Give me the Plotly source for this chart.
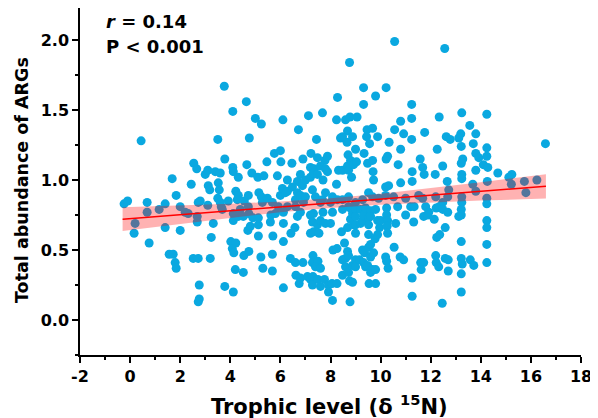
import plotly.graph_objects as go

# ---- data (trophic level δ15N, total ARG abundance) ----
pts_lt2 = [(-0.24,0.83),(-0.10,0.85),(0.16,0.62),(0.20,0.69),(0.44,1.28),(0.68,0.84),(0.68,0.77),
           (0.76,0.55),(1.16,0.79),(1.40,0.83),(1.40,0.66),(1.56,0.47),(1.72,0.47),(1.68,1.01),
           (1.80,0.41),(1.84,0.37),(1.84,0.89),(2.00,0.64),(2.00,0.81)]
pts_2_4 = [(2.20,0.77),(2.32,0.76),(2.44,0.97),(2.54,1.12),(2.66,1.08),(2.68,0.74),(2.68,0.70),
           (2.72,0.84),(2.80,0.85),(2.52,0.44),(2.72,0.44),(2.76,0.25),(2.76,0.15),(2.72,0.13),
           (3.00,1.04),(3.10,1.07),(3.12,0.96),(3.18,0.93),(3.10,0.82),(3.24,0.59),(3.32,0.69),
           (3.20,0.44),(3.40,1.06),(3.50,1.29),(3.52,0.98),(3.56,0.93),(3.50,0.87),(3.60,1.05),
           (3.60,0.84),(3.64,0.81),(3.68,0.79),(3.76,1.67),(3.78,1.15),(3.78,0.24),(3.92,0.85)]
pts_4_6 = [(4.10,1.49),(4.02,0.56),(4.10,1.09),(4.12,1.06),(4.22,0.92),(4.32,0.89),(4.28,0.86),
           (4.12,0.76),(4.12,0.71),(4.32,0.74),(4.40,0.79),(4.32,1.02),(4.22,0.55),(4.08,0.51),
           (4.14,0.48),(4.12,0.20),(4.20,0.36),(4.52,0.34),(4.54,0.46),(4.74,0.49),(4.56,0.85),
           (4.72,0.81),(4.52,0.74),(4.74,0.76),(4.90,0.73),(4.70,0.64),(4.80,0.67),(5.12,0.68),
           (5.12,0.73),(5.12,0.60),(4.64,1.56),(4.66,1.11),(4.76,1.30),(4.72,0.89),(4.86,1.05),
           (5.00,1.44),(5.24,1.40),(5.10,1.02),(5.14,0.91),(5.24,0.88),(5.28,0.84),(5.34,1.03),
           (5.46,1.13),(5.48,0.87),(5.22,0.45),(5.30,0.37),(5.62,0.75),(5.60,0.70),(5.80,0.76),
           (5.68,0.47),(5.68,0.35),(5.70,0.60),(5.68,0.84),(5.76,1.19),(5.88,1.03),(5.92,0.81),
           (6.00,1.21),(6.02,1.13),(6.00,0.89),(6.10,1.43)]
pts_6_8 = [(6.12,0.69),(6.12,0.56),(6.12,0.23),(6.12,0.77),(6.08,0.94),(6.20,0.91),(6.28,1.00),
           (6.28,0.92),(6.28,0.81),(6.42,0.62),(6.58,0.66),(6.40,0.44),(6.60,0.41),(6.90,0.41),
           (6.46,1.12),(6.48,0.95),(6.60,0.86),(6.60,0.81),(6.68,0.91),(6.72,1.36),(6.68,0.99),
           (6.80,1.04),(6.80,0.89),(6.80,0.77),(6.88,0.96),(6.90,1.15),(6.68,0.74),(6.62,0.32),
           (6.80,0.30),(6.75,0.26),(6.92,0.84),(7.00,0.88),(7.00,1.00),(7.08,0.31),(7.12,1.46),
           (7.22,1.19),(7.20,1.09),(7.34,1.08),(7.20,1.02),(7.32,1.05),(7.28,0.93),(7.32,0.76),
           (7.40,0.88),(7.48,1.04),(7.44,1.29),(7.48,1.16),(7.20,0.75),(7.20,0.62),(7.28,0.70),
           (7.32,0.63),(7.48,0.68),(7.54,0.62),(7.60,0.71),(7.70,0.77),(7.80,0.69),(8.00,0.69),
           (7.30,0.46),(7.28,0.41),(7.50,0.42),(7.40,0.38),(7.60,0.37),(7.20,0.29),(7.30,0.31),
           (7.28,0.25),(7.50,0.29),(7.60,0.24),(7.76,0.29),(7.92,0.25),(8.06,0.26),(8.26,0.26),
           (7.92,0.20),(8.08,0.14),(7.68,1.48),(7.70,1.00),(7.68,0.86),(7.60,0.84),(7.80,0.91),
           (7.78,1.14),(7.88,1.17),(7.88,1.06),(7.60,1.10),(7.80,1.08)]
pts_8_10 = [(8.00,0.84),(8.08,0.88),(8.08,0.77),(8.24,0.97),(8.28,0.86),(8.24,1.43),(8.28,1.59),
            (8.32,1.07),(8.40,1.30),(8.10,0.50),(8.26,0.51),(8.44,0.63),(8.48,0.86),(8.48,0.79),
            (8.48,1.31),(8.48,1.07),(8.48,0.43),(8.48,0.32),(8.56,0.55),(8.60,1.43),(8.60,0.44),
            (8.60,0.38),(8.68,1.35),(8.66,1.27),(8.70,1.18),(8.68,1.10),(8.72,1.07),(8.72,0.81),
            (8.72,0.88),(8.68,0.66),(8.68,0.49),(8.72,0.46),(8.72,0.34),(8.76,1.84),(8.78,1.45),
            (8.76,0.28),(8.78,0.13),(8.80,1.14),(8.84,1.02),(8.80,0.80),(8.80,0.72),(8.88,0.76),
            (8.88,1.31),(8.92,1.11),(8.92,0.68),(8.88,0.39),(8.88,0.27),(9.00,1.22),(9.04,1.13),
            (9.06,1.45),(9.00,0.84),(9.00,0.79),(9.00,0.74),(9.00,0.68),(9.00,0.62),(9.00,0.43),
            (9.00,0.38),(9.16,0.43),(9.20,0.79),(9.20,0.69),(9.28,0.86),(9.28,0.71),(9.28,0.50),
            (9.32,1.66),(9.32,1.54),(9.34,1.19),(9.32,0.75),(9.32,0.41),(9.36,0.48),(9.40,0.80),
            (9.40,0.38),(9.46,1.36),(9.44,1.31),(9.48,1.12),(9.48,0.39),(9.52,0.91),(9.52,0.73),
            (9.52,0.68),(9.52,0.61),(9.52,0.52),(9.54,0.26),(9.56,1.26),(9.60,0.78),(9.60,0.74),
            (9.60,0.54),(9.60,0.45),(9.60,0.34),(9.68,1.37),(9.68,1.14),(9.70,1.06),(9.72,1.00),
            (9.68,0.88),(9.68,0.36),(9.72,0.48),(9.78,0.58),(9.80,1.60),(9.80,0.79),(9.80,0.36),
            (9.80,0.26),(9.88,1.31),(9.88,0.71),(9.88,0.61),(9.92,0.87),(9.96,0.66),(10.00,0.71)]
pts_10_12 = [(10.22,1.66),(10.22,1.15),(10.20,0.95),(10.32,0.96),(10.20,0.89),(10.24,0.80),
             (10.24,0.75),(10.28,0.71),(10.26,0.67),(10.28,0.62),(10.20,0.45),(10.24,0.42),
             (10.30,0.37),(10.28,1.17),(10.34,1.27),(10.52,0.88),(10.54,0.52),(10.56,1.99),
             (10.56,1.36),(10.60,0.69),(10.68,0.81),(10.70,1.11),(10.80,1.42),(10.80,1.22),
             (10.80,0.98),(10.78,0.45),(10.92,0.43),(10.92,1.33),(11.00,0.87),(11.00,0.75),
             (11.20,0.81),(11.24,1.54),(11.24,1.44),(11.24,1.29),(11.26,0.99),(11.26,1.06),
             (11.34,0.81),(11.32,0.70),(11.26,0.30),(11.26,0.17),(11.52,0.89),(11.58,1.15),
             (11.60,0.41),(11.72,0.41),(11.62,0.36),(11.68,0.87),(11.68,1.09),(11.74,1.04),
             (11.72,0.74),(11.76,1.34),(11.80,0.81),(11.88,0.75),(11.92,0.77)]
pts_12_14 = [(12.14,0.72),(12.18,1.04),(12.20,0.88),(12.22,0.80),(12.34,0.81),(12.24,0.59),
             (12.36,0.61),(12.20,0.46),(12.22,0.41),(12.32,0.38),(12.26,1.22),(12.34,1.45),
             (12.48,1.10),(12.48,0.84),(12.48,0.79),(12.66,0.99),(12.58,0.66),(12.58,0.44),
             (12.70,0.43),(12.70,0.35),(12.46,0.12),(12.56,1.94),(12.62,1.31),(12.78,1.29),
             (12.68,0.88),(12.72,0.93),(12.68,0.77),(13.20,1.33),(13.12,1.30),(13.24,1.48),
             (13.22,1.24),(13.28,1.15),(13.22,1.12),(13.24,1.04),(13.24,1.01),(13.24,0.88),
             (13.24,0.84),(13.22,0.79),(13.22,0.75),(13.12,0.74),(13.22,0.56),(13.22,0.44),
             (13.26,0.40),(13.22,0.33),(13.22,0.20),(13.56,1.39),(13.58,0.43),(13.70,1.26),
             (13.72,0.39),(13.68,0.97),(13.80,1.33),(13.80,1.19),(13.92,1.16),(13.80,1.07),
             (13.80,0.92),(14.10,1.11),(14.28,1.09),(14.26,0.99),(14.24,1.47),(14.24,1.23),
             (14.24,1.17),(14.24,0.87),(14.24,0.83),(14.24,0.71),(14.24,0.66),(14.24,0.54),
             (14.24,0.41)]
pts_gt14 = [(14.68,1.05),(15.24,1.04),(15.12,1.02),(15.22,0.97),(15.74,0.99),(15.80,0.91),
            (16.24,1.00),(16.58,1.26)]

# fitted line and 95% band
fit_x = [-0.3, 16.6]
fit_y = [0.72, 0.955]
band_x = [-0.3, 2, 4, 6, 8, 10, 12, 14, 16.6]
band_lo = [0.635, 0.686, 0.729, 0.769, 0.800, 0.824, 0.840, 0.853, 0.868]
band_hi = [0.805, 0.818, 0.831, 0.847, 0.870, 0.902, 0.942, 0.985, 1.042]

stat_r = "0.14"
stat_p = "0.001"
x_ticks = [-2, 0, 2, 4, 6, 8, 10, 12, 14, 16, 18]
x_tick_labels = ["-2", "0", "2", "4", "6", "8", "10", "12", "14", "16", "18"]
y_ticks = [0.0, 0.5, 1.0, 1.5, 2.0]
y_tick_labels = ["0.0", "0.5", "1.0", "1.5", "2.0"]

all_pts = pts_lt2 + pts_2_4 + pts_4_6 + pts_6_8 + pts_8_10 + pts_10_12 + pts_12_14 + pts_gt14
trophic = [p[0] for p in all_pts]
abundance = [p[1] for p in all_pts]

FONT = "DejaVu Sans"
fig = go.Figure()
fig.add_trace(go.Scatter(x=trophic, y=abundance, mode="markers",
                         marker=dict(color="#0AA8E0", size=9, line=dict(width=0)),
                         hoverinfo="skip"))
fig.add_trace(go.Scatter(x=band_x + band_x[::-1], y=band_hi + band_lo[::-1],
                         fill="toself", fillcolor="rgba(255,0,0,0.3)",
                         line=dict(width=0), mode="lines", hoverinfo="skip"))
fig.add_trace(go.Scatter(x=fit_x, y=fit_y, mode="lines",
                         line=dict(color="#FF0000", width=1.5), hoverinfo="skip"))

axis_common = dict(showline=True, linecolor="black", linewidth=1.5, ticks="outside",
                   ticklen=6, tickwidth=1.5, tickcolor="black", showgrid=False,
                   zeroline=False, mirror=False,
                   tickfont=dict(family=FONT, size=16, color="black", weight="bold"))
fig.update_xaxes(range=[-2, 18], tickvals=x_ticks, ticktext=x_tick_labels,
                 minor=dict(dtick=1, tick0=0, ticks="outside", ticklen=3,
                            tickwidth=1.5, tickcolor="black"), **axis_common)
fig.update_yaxes(range=[-0.25, 2.229], tickvals=y_ticks, ticktext=y_tick_labels,
                 minor=dict(dtick=0.25, tick0=0, ticks="outside", ticklen=3,
                            tickwidth=1.5, tickcolor="black"), **axis_common)

ann_font = dict(family=FONT, size=18, color="black", weight="bold")
fig.update_layout(
    width=590, height=410, showlegend=False,
    margin=dict(l=72, r=17, t=0, b=63),
    paper_bgcolor="white", plot_bgcolor="white",
    annotations=[
        dict(text="<i>r</i> = " + stat_r, xref="paper", yref="paper", x=0.048, y=0.96,
             xanchor="left", yanchor="middle", showarrow=False, font=ann_font),
        dict(text="P &lt; " + stat_p, xref="paper", yref="paper", x=0.048, y=0.888,
             xanchor="left", yanchor="middle", showarrow=False, font=ann_font),
        dict(text="Trophic level (δ <sup>15</sup>N)", xref="paper", yref="paper",
             x=0.499, y=-0.144, xanchor="center", yanchor="middle", showarrow=False,
             font=dict(family=FONT, size=21, color="black", weight="bold")),
        dict(text="Total abundance of ARGs", xref="paper", yref="paper", textangle=-90,
             x=-0.116, y=0.504, xanchor="center", yanchor="middle", showarrow=False,
             font=dict(family=FONT, size=17.5, color="black", weight="bold")),
    ],
)
fig.write_html("out.html")
